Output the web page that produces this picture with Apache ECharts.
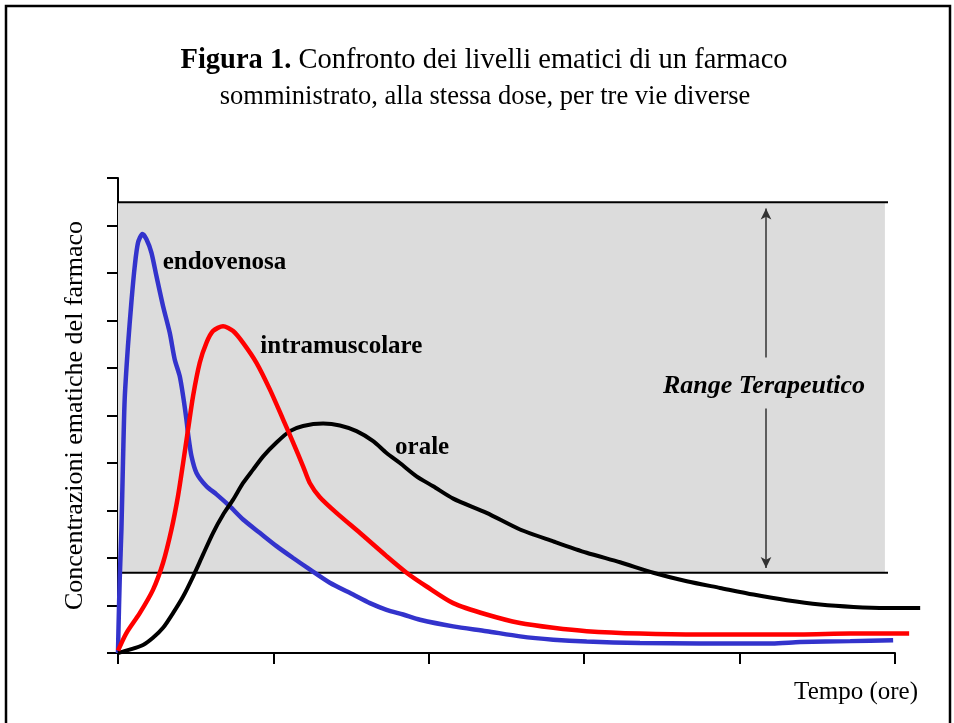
<!DOCTYPE html>
<html>
<head>
<meta charset="utf-8">
<script src="https://cdn.jsdelivr.net/npm/echarts@6/dist/echarts.min.js"></script>
<style>
html,body{margin:0;padding:0;background:#fff;}
#chart{width:954px;height:723px;}
</style>
</head>
<body>
<div id="chart"></div>
<script>
// ---- Data (time in hours, concentration in arbitrary units) ----
var ivTime = [0, 0.003, 0.011, 0.022, 0.032, 0.043, 0.064, 0.086, 0.108, 0.129, 0.157, 0.183, 0.215, 0.247, 0.290, 0.333, 0.365, 0.397, 0.419, 0.440, 0.453, 0.473, 0.505, 0.569, 0.634, 0.719, 0.805, 0.912, 1.020, 1.127, 1.234, 1.363, 1.513, 1.621, 1.728, 1.835, 1.943, 2.157, 2.372, 2.587, 2.801, 3.016, 3.359, 3.746, 4.209, 4.389, 4.712, 4.988];
var ivConc = [0, 0.49, 1.55, 2.60, 4.01, 5.34, 6.46, 7.38, 8.15, 8.64, 8.82, 8.71, 8.43, 7.94, 7.30, 6.74, 6.18, 5.83, 5.41, 4.92, 4.56, 4.14, 3.79, 3.51, 3.34, 3.09, 2.81, 2.53, 2.25, 2.00, 1.76, 1.48, 1.23, 1.05, 0.91, 0.81, 0.70, 0.56, 0.46, 0.35, 0.28, 0.24, 0.21, 0.20, 0.20, 0.23, 0.25, 0.27];

var imTime = [0, 0.054, 0.140, 0.225, 0.290, 0.344, 0.386, 0.419, 0.451, 0.483, 0.526, 0.569, 0.612, 0.676, 0.741, 0.805, 0.891, 0.977, 1.062, 1.127, 1.191, 1.234, 1.299, 1.406, 1.556, 1.728, 1.857, 1.986, 2.157, 2.372, 2.587, 2.801, 3.016, 3.359, 3.746, 4.389, 4.712, 5.091];
var imConc = [0.05, 0.42, 0.84, 1.33, 1.90, 2.60, 3.30, 4.00, 4.71, 5.41, 6.11, 6.53, 6.78, 6.88, 6.78, 6.53, 6.11, 5.55, 4.92, 4.43, 3.93, 3.58, 3.28, 2.95, 2.53, 2.04, 1.69, 1.40, 1.05, 0.81, 0.63, 0.53, 0.46, 0.41, 0.39, 0.39, 0.41, 0.41];

var oralTime = [0, 0.075, 0.161, 0.225, 0.290, 0.354, 0.419, 0.483, 0.547, 0.612, 0.676, 0.741, 0.805, 0.869, 0.934, 1.020, 1.106, 1.191, 1.320, 1.428, 1.535, 1.642, 1.728, 1.814, 1.921, 2.028, 2.157, 2.372, 2.587, 2.801, 3.016, 3.231, 3.445, 3.660, 3.874, 4.089, 4.304, 4.518, 4.733, 4.948, 5.162];
var oralConc = [0, 0.07, 0.17, 0.32, 0.53, 0.84, 1.19, 1.61, 2.07, 2.53, 2.91, 3.23, 3.58, 3.86, 4.14, 4.43, 4.67, 4.78, 4.83, 4.79, 4.67, 4.46, 4.21, 4.00, 3.72, 3.51, 3.25, 2.95, 2.60, 2.35, 2.11, 1.91, 1.69, 1.51, 1.37, 1.23, 1.11, 1.02, 0.97, 0.95, 0.95];

var seriesNames = ['endovenosa', 'intramuscolare', 'orale'];
var labelTime = [0.685, 1.437, 1.957];
var labelConc = [8.23, 6.46, 4.33];

var therapeuticRange = [1.69, 9.49];   // lower / upper limit
var rangeEndTime = 4.955;
var rangeShadeEnd = 4.935;
var rangeStubLevels = [2, 3, 4, 5, 6, 7, 8, 9];
var rangeStubSpan = [4.935, 5.05];
var arrowTime = 4.17;
var arrowUpper = [6.22, 9.36];   // from gap to tip
var arrowLower = [5.15, 1.79];
var rangeLabel = 'Range Terapeutico';
var rangeLabelPos = [4.157, 5.62];

var xTicks = [0, 1, 2, 3, 4, 5];
var yTicks = [0, 1, 2, 3, 4, 5, 6, 7, 8, 9, 10];
var curveXMax = 5.2;   // curves run slightly past the last tick

var titleLine1Bold = 'Figura 1.';
var titleLine1 = ' Confronto dei livelli ematici di un farmaco';
var titleLine2 = 'somministrato, alla stessa dose, per tre vie diverse';
var yName = 'Concentrazioni ematiche del farmaco';
var xName = 'Tempo (ore)';

function zip(a, b) { return a.map(function (v, i) { return [v, b[i]]; }); }

var SERIF = '"Liberation Serif", "Times New Roman", serif';

// plot geometry
var W = 954, GL = 118, GR = 59, GT = 178, GB = 70;
var plotW = W - GL - GR;
var unitW = plotW / (xTicks[xTicks.length - 1] - xTicks[0]);
var curveRight = W - GL - unitW * curveXMax;

var chart = echarts.init(document.getElementById('chart'));
var option = {
  animation: false,
  backgroundColor: '#fff',
  grid: [
    { left: GL, right: GR, top: GT, bottom: GB, containLabel: false },
    { left: GL, right: curveRight, top: GT, bottom: GB, containLabel: false }
  ],
  xAxis: [{
    type: 'value', gridIndex: 0,
    min: xTicks[0], max: xTicks[xTicks.length - 1], interval: 1,
    name: xName,
    nameLocation: 'end',
    nameGap: 23,
    nameTextStyle: { fontFamily: SERIF, fontSize: 25, color: '#000', align: 'right', verticalAlign: 'top', padding: [27, 0, 0, 0] },
    axisLine: { show: true, onZero: false, lineStyle: { color: '#000', width: 2 } },
    axisTick: { show: true, inside: false, length: 11, lineStyle: { color: '#000', width: 2 } },
    axisLabel: { show: false },
    splitLine: { show: false }
  }, {
    type: 'value', gridIndex: 1, show: false,
    min: 0, max: curveXMax,
    splitLine: { show: false }
  }],
  yAxis: [{
    type: 'value', gridIndex: 0,
    min: yTicks[0], max: yTicks[yTicks.length - 1], interval: 1,
    name: yName,
    nameLocation: 'middle',
    nameRotate: 90,
    nameGap: 30,
    nameTextStyle: { fontFamily: SERIF, fontSize: 26, color: '#000' },
    axisLine: { show: true, onZero: false, lineStyle: { color: '#000', width: 2 } },
    axisTick: { show: true, inside: false, length: 11, lineStyle: { color: '#000', width: 2 } },
    axisLabel: { show: false },
    splitLine: { show: false }
  }, {
    type: 'value', gridIndex: 1, show: false,
    min: yTicks[0], max: yTicks[yTicks.length - 1],
    splitLine: { show: false }
  }],
  graphic: [
    { type: 'rect', shape: { x: 6, y: 6, width: 944, height: 760 }, style: { fill: 'none', stroke: '#000', lineWidth: 2.5 }, silent: true },
    { type: 'text', x: 484, y: 61, style: {
        text: '{b|' + titleLine1Bold + '}{r|' + titleLine1 + '}',
        align: 'center', verticalAlign: 'middle',
        rich: {
          b: { fontFamily: SERIF, fontSize: 28.5, fontWeight: 'bold', fill: '#000' },
          r: { fontFamily: SERIF, fontSize: 28.5, fill: '#000' }
        }
      }, silent: true },
    { type: 'text', x: 485, y: 97, style: {
        text: titleLine2, align: 'center', verticalAlign: 'middle',
        fontFamily: SERIF, fontSize: 26.5, fill: '#000'
      }, silent: true }
  ],
  series: [
    {
      name: 'rangeTop', type: 'line', silent: true, symbol: 'none',
      xAxisIndex: 0, yAxisIndex: 0,
      data: [[0, therapeuticRange[1]], [rangeEndTime, therapeuticRange[1]]],
      lineStyle: { color: '#000', width: 2 },
      markArea: {
        silent: true,
        itemStyle: { color: '#dcdcdc' },
        data: [[{ coord: [0, therapeuticRange[1]] }, { coord: [rangeShadeEnd, therapeuticRange[0]] }]]
      },
      markLine: {
        silent: true, symbol: ['none', 'none'],
        label: { show: false },
        lineStyle: { color: '#dcdcdc', width: 2, type: 'solid' },
        data: rangeStubLevels.map(function (lv) {
          return [{ coord: [rangeStubSpan[0], lv], lineStyle: { width: lv === 7 ? 4 : 2 } }, { coord: [rangeStubSpan[1], lv] }];
        })
      }
    },
    {
      name: 'rangeBottom', type: 'line', silent: true, symbol: 'none',
      xAxisIndex: 0, yAxisIndex: 0,
      data: [[0, therapeuticRange[0]], [rangeEndTime, therapeuticRange[0]]],
      lineStyle: { color: '#000', width: 2 }
    },
    {
      name: seriesNames[0], type: 'line', symbol: 'none', smooth: 0.25,
      xAxisIndex: 1, yAxisIndex: 1,
      data: zip(ivTime, ivConc),
      lineStyle: { color: '#3333cc', width: 4.5 }
    },
    {
      name: seriesNames[2], type: 'line', symbol: 'none', smooth: 0.25,
      xAxisIndex: 1, yAxisIndex: 1,
      data: zip(oralTime, oralConc),
      lineStyle: { color: '#000000', width: 4 }
    },
    {
      name: seriesNames[1], type: 'line', symbol: 'none', smooth: 0.25,
      xAxisIndex: 1, yAxisIndex: 1,
      data: zip(imTime, imConc),
      lineStyle: { color: '#ff0000', width: 4.5 }
    },
    {
      name: 'labels', type: 'scatter', silent: true, symbolSize: 1,
      xAxisIndex: 0, yAxisIndex: 0,
      itemStyle: { color: 'rgba(0,0,0,0)', opacity: 1 },
      data: seriesNames.map(function (n, i) {
        return { name: n, value: [labelTime[i], labelConc[i]] };
      }).concat([{ name: rangeLabel, value: rangeLabelPos,
        label: { fontStyle: 'italic', fontSize: 26 } }]),
      label: {
        show: true, position: 'inside', formatter: '{b}',
        fontFamily: SERIF, fontSize: 25, fontWeight: 'bold', color: '#000',
        textBorderWidth: 0
      },
      markLine: {
        silent: true, symbol: ['none', 'arrow'], symbolSize: [8, 11],
        label: { show: false },
        lineStyle: { color: '#333', width: 1.5, type: 'solid', opacity: 1 },
        data: [
          [{ coord: [arrowTime, arrowUpper[0]] }, { coord: [arrowTime, arrowUpper[1]] }],
          [{ coord: [arrowTime, arrowLower[0]] }, { coord: [arrowTime, arrowLower[1]] }]
        ]
      }
    }
  ]
};
chart.setOption(option);
</script>
</body>
</html>
